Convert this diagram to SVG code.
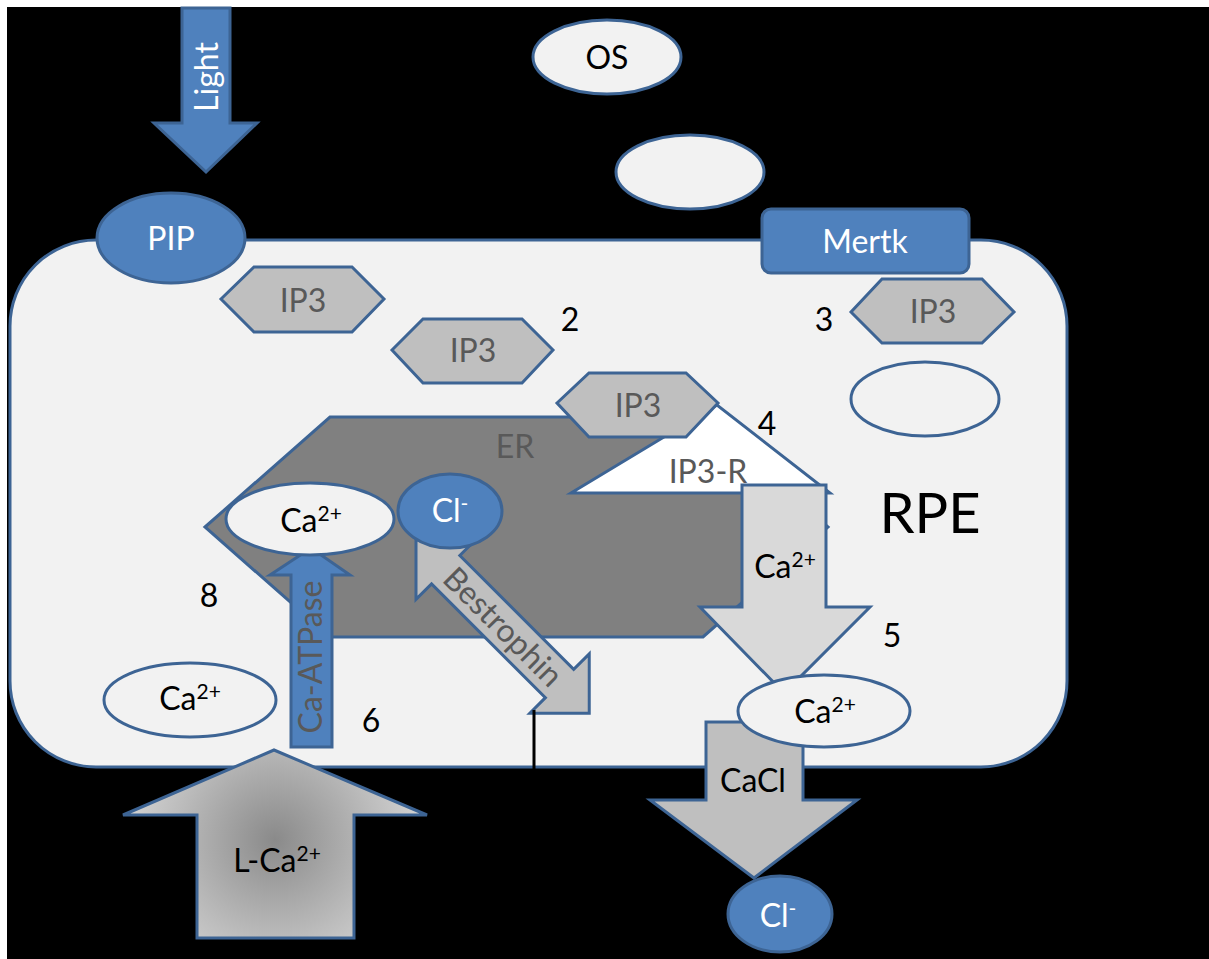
<svg xmlns="http://www.w3.org/2000/svg" width="1209" height="959" viewBox="0 0 1209 959">
  <defs>
    <style>
      .ln { stroke: #3d6494; stroke-width: 3; stroke-linejoin: miter; }
      .blue { fill: #4f81bd; }
      .pale { fill: #f2f2f2; }
      .grey { fill: #bfbfbf; }
      .lite { fill: #d9d9d9; }
      .t { font-family: Lato, "Liberation Sans", sans-serif; font-size: 32px; text-anchor: middle; }
      .w { fill: #ffffff; }
      .k { fill: #000000; }
      .g { fill: #595959; }
      .sup { font-size: 21px; }
    </style>
    <radialGradient id="lcaFill" cx="275" cy="840" r="170" gradientUnits="userSpaceOnUse">
      <stop offset="0" stop-color="#8a8a8a"/>
      <stop offset="0.6" stop-color="#bdbdbd"/>
      <stop offset="1" stop-color="#dcdcdc"/>
    </radialGradient>
  </defs>

  <!-- frame -->
  <rect x="0" y="0" width="1209" height="959" fill="#ffffff"/>
  <rect x="7" y="7" width="1202" height="952" fill="#000000"/>

  <!-- RPE cell body -->
  <g id="rpe-cell">
    <rect x="10" y="240" width="1057" height="527" rx="86" ry="86" class="pale ln"/>
    <text x="930" y="533" class="t k" style="font-size:56px">RPE</text>
  </g>

  <g id="connectors">
    <!-- light arrow -->
    <g id="light">
      <polygon points="182,8 230,8 230,123 257,123 206,172 154,123 182,123" class="blue ln"/>
      <text transform="translate(206,77) rotate(-90)" x="0" y="12" class="t w">Light</text>
    </g>
    <!-- bestrophin / Ca-ATPase / fluxes drawn with their nodes below -->
  </g>

  <g id="pip">
    <ellipse cx="171" cy="238" rx="74" ry="45" class="blue ln"/>
    <text x="171" y="250" class="t w">PIP</text>
  </g>

  <g id="os">
    <ellipse cx="607" cy="57" rx="74" ry="37" class="pale ln"/>
    <text x="607" y="69" class="t k">OS</text>
  </g>

  <g id="os-fragment">
    <ellipse cx="690" cy="172" rx="74" ry="37" class="pale ln"/>
  </g>

  <g id="mertk">
    <rect x="762" y="209" width="207" height="64" rx="9" ry="9" class="blue ln"/>
    <text x="865" y="253" class="t w">Mertk</text>
  </g>

  <g id="ip3-a">
    <polygon points="221,299 254,267 352,267 384,299 352,332 254,332" class="grey ln"/>
    <text x="303" y="312" class="t g">IP3</text>
  </g>

  <g id="ip3-b">
    <polygon points="392,350 423,319 522,319 553,350 522,383 423,383" class="grey ln"/>
    <text x="473" y="362" class="t g">IP3</text>
  </g>

  <g id="ip3-c">
    <polygon points="851,312 882,279 982,279 1014,312 982,343 882,343" class="grey ln"/>
    <text x="933" y="323" class="t g">IP3</text>
  </g>

  <g id="phagosome">
    <ellipse cx="925" cy="399" rx="74" ry="37" class="pale ln"/>
  </g>

  <!-- step numbers -->
  <g id="labels" class="t k">
    <text x="570" y="331">2</text>
    <text x="824" y="331">3</text>
    <text x="767" y="435">4</text>
    <text x="892" y="647">5</text>
    <text x="371" y="732">6</text>
    <text x="528" y="588">7</text>
    <text x="209" y="607">8</text>
  </g>

  <g id="er">
    <polygon points="205,527 330,417 703,417 828,527 703,637 330,637" fill="#808080" class="ln"/>
    <text x="515" y="458" class="t g">ER</text>
  </g>

  <g id="ip3-receptor">
    <polygon points="571,493 717,405 830,493" fill="#ffffff" class="ln"/>
    <text x="708" y="483" class="t g">IP3-R</text>
  </g>

  <g id="ip3-d">
    <polygon points="557,403 589,373 686,373 718,403 686,437 589,437" class="grey ln"/>
    <text x="638" y="417" class="t g">IP3</text>
  </g>

  <g id="ca-release">
    <polygon points="742,485 826,485 826,607 870,607 784,693 700,607 742,607" class="lite ln"/>
    <text x="785" y="578" class="t k">Ca<tspan dy="-11" class="sup">2+</tspan></text>
  </g>

  <g id="cacl-channel">
    <polygon points="706,722 803,722 803,800 857,800 754,878 650,800 706,800" class="grey ln"/>
    <text x="753" y="792" class="t k">CaCl</text>
  </g>

  <g id="ca-cyto-right">
    <ellipse cx="824" cy="711" rx="86" ry="36" class="pale ln"/>
    <text x="825" y="723" class="t k">Ca<tspan dy="-11" class="sup">2+</tspan></text>
  </g>

  <g id="cl-out">
    <ellipse cx="780" cy="914" rx="52" ry="38" class="blue ln"/>
    <text x="778" y="927" class="t w">Cl<tspan dy="-11" class="sup">-</tspan></text>
  </g>

  <g id="ca-atpase">
    <polygon points="291,747 332,747 332,575 350,575 311,548 270,575 291,575" class="blue ln"/>
    <text transform="translate(311,657) rotate(-90)" x="0" y="11" class="t g">Ca-ATPase</text>
  </g>

  <g id="ca-er">
    <ellipse cx="310" cy="519" rx="84" ry="36" class="pale ln"/>
    <text x="311" y="532" class="t k">Ca<tspan dy="-11" class="sup">2+</tspan></text>
  </g>

  <g id="bestrophin">
    <polygon transform="translate(416,540) rotate(45)" points="0,0 42,-42 42,-20 203,-20 203,-42 245,0 203,42 203,20 42,20 42,42" class="grey ln"/>
    <text transform="translate(503,627) rotate(45)" x="0" y="11" class="t g">Bestrophin</text>
    <line x1="534" y1="710" x2="534" y2="770" stroke="#000000" stroke-width="3"/>
  </g>

  <g id="cl-er">
    <ellipse cx="450" cy="511" rx="52" ry="37" class="blue ln"/>
    <text x="450" y="522" class="t w">Cl<tspan dy="-11" class="sup">-</tspan></text>
  </g>

  <g id="ca-cyto-left">
    <ellipse cx="190" cy="700" rx="86" ry="37" class="pale ln"/>
    <text x="190" y="710" class="t k">Ca<tspan dy="-11" class="sup">2+</tspan></text>
  </g>

  <g id="l-type-channel">
    <polygon points="197,938 354,938 354,815 427,815 274,750 123,815 197,815" fill="url(#lcaFill)" class="ln"/>
    <text x="277" y="872" class="t k">L-Ca<tspan dy="-11" class="sup">2+</tspan></text>
  </g>
</svg>
